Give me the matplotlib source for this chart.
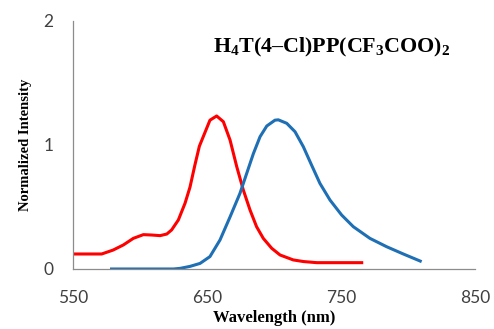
# Emission spectra of H4T(4-Cl)PP(CF3COO)2
import numpy as np
import matplotlib
matplotlib.use("Agg")
import matplotlib.pyplot as plt

plt.rcParams['mathtext.fontset'] = 'custom'
plt.rcParams['mathtext.rm'] = 'Liberation Serif:bold'
plt.rcParams['mathtext.bf'] = 'Liberation Serif:bold'
plt.rcParams['mathtext.it'] = 'Liberation Serif:bold'

# Red curve
wl_red = [550, 571.4, 580, 587.6, 595, 602.5, 608.7, 615, 620, 623.6, 628.6, 633.6,
          637.3, 641, 644.3, 647.2, 652.2, 657.2, 662.2, 667.2, 672.2, 677.1, 682.1,
          687, 692, 698.3, 704.5, 714.4, 722, 731.9, 766.6]
int_red = [0.121, 0.121, 0.153, 0.194, 0.247, 0.277, 0.274, 0.269, 0.282, 0.315, 0.395,
           0.53, 0.66, 0.84, 0.99, 1.067, 1.2, 1.234, 1.188, 1.04, 0.825, 0.637, 0.476,
           0.341, 0.247, 0.167, 0.113, 0.073, 0.06, 0.051, 0.051]

# Blue curve
wl_blue = [577.6, 600, 625, 629.9, 637.3, 644.8, 652.2, 659.7, 667.2, 674.6, 679.6,
           684.6, 689.6, 694.6, 700.7, 703.2, 709.5, 715.7, 721.9, 728, 734.3, 741.8,
           750.5, 759.2, 771.6, 784, 796.5, 810.2]
int_blue = [0.0, 0.0, 0.0, 0.005, 0.021, 0.045, 0.1, 0.234, 0.42, 0.61, 0.77, 0.93,
            1.067, 1.153, 1.2, 1.203, 1.175, 1.107, 0.986, 0.839, 0.69, 0.556, 0.435,
            0.341, 0.247, 0.18, 0.121, 0.059]

xticks = [550, 650, 750, 850]
yticks = [0, 1, 2]

fig = plt.figure(figsize=(4.94, 3.29), dpi=100)
ax = fig.add_axes([0.1478, 0.1824, 0.8137, 0.7538])

ax.plot(wl_red, int_red, color='#ff0000', linewidth=2.2, solid_capstyle='butt',
        solid_joinstyle='round')
ax.plot(wl_blue, int_blue, color='#1f6fb5', linewidth=2.2, solid_capstyle='butt',
        solid_joinstyle='round')

ax.set_xlim(550, 850)
ax.set_ylim(0, 2)
ax.set_xticks(xticks)
ax.set_yticks(yticks)
ax.tick_params(axis='both', length=0, labelsize=12.5, labelcolor='#404040')
ax.tick_params(axis='x', pad=15)
ax.tick_params(axis='y', pad=14)
for lab in ax.get_xticklabels() + ax.get_yticklabels():
    lab.set_family('Lato')

for s in ['top', 'right']:
    ax.spines[s].set_visible(False)
for s in ['left', 'bottom']:
    ax.spines[s].set_color('#8c8c8c')
    ax.spines[s].set_linewidth(0.9)

ax.set_xlabel('Wavelength (nm)', family='Liberation Serif', fontweight='bold',
              fontsize=12, labelpad=3)
ax.set_ylabel('Normalized Intensity', family='Liberation Serif', fontweight='bold',
              fontsize=10.5, labelpad=8)

fig.text(0.672, 0.857, r'$\mathrm{H_4T(4–Cl)PP(CF_3COO)_2}$', ha='center', va='center',
         fontsize=15.8)

fig.savefig("out.png", dpi=100)
